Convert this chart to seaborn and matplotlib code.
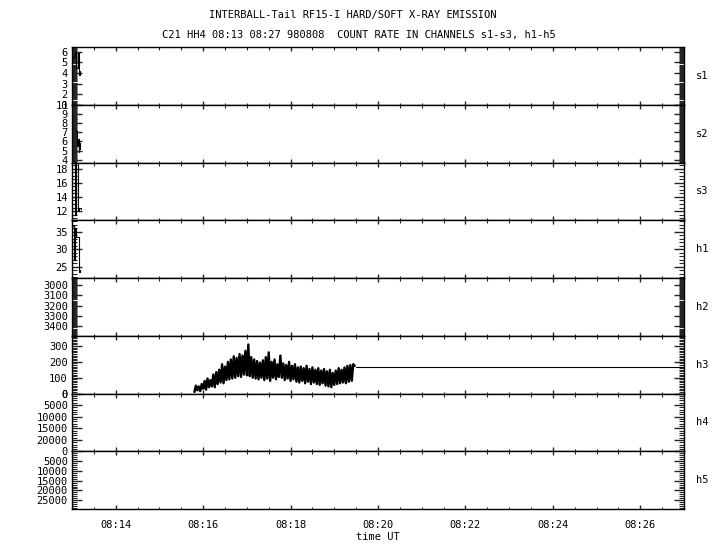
# INTERBALL-Tail RF15-I hard/soft X-ray count rates, 8 stacked channels

import numpy as np
import matplotlib
matplotlib.use("Agg")
import matplotlib.pyplot as plt
from matplotlib.ticker import MultipleLocator, FuncFormatter
import seaborn as sns

# ---- data (time in minutes after 08:00) ----
channels = ["s1", "s2", "s3", "h1", "h2", "h3", "h4", "h5"]

s1_t = [13.02, 13.06, 13.10, 13.14, 13.16, 13.18]
s1_v = [5.5, 6.0, 4.5, 5.9, 3.8, 4.2]

s2_t = [13.08, 13.11, 13.13, 13.15, 13.17, 13.18]
s2_v = [7.1, 5.5, 6.3, 4.9, 5.8, 5.2]

s3_t = [13.05, 13.08, 13.10, 13.14, 13.17, 13.20]
s3_v = [19.5, 11.5, 19.5, 12.0, 12.5, 12.3]

h1_t = [13.02, 13.05, 13.08, 13.10, 13.15, 13.17, 13.19]
h1_v = [36.5, 27.0, 36.0, 33.5, 33.2, 23.5, 24.0]

# h3 sampled every 2 s from 08:15:48
h3_v = [10, 50, 20, 45, 15, 60,
        30, 80, 25, 95, 40, 85,
        45, 120, 40, 135, 60, 150,
        70, 185, 65, 170, 85, 200,
        90, 215, 95, 235, 100, 225,
        110, 250, 105, 240, 120, 270,
        115, 310, 110, 230, 100, 215,
        95, 205, 90, 195, 100, 210,
        85, 230, 95, 260, 80, 200,
        100, 215, 90, 185, 105, 240,
        100, 190, 85, 180, 95, 200,
        80, 175, 90, 185, 75, 165,
        70, 170, 80, 160, 65, 175,
        75, 155, 60, 165, 70, 150,
        60, 160, 55, 145, 65, 155,
        50, 140, 45, 150, 40, 130,
        55, 145, 60, 160, 65, 150,
        70, 165, 65, 175, 75, 180,
        80, 185, 175]
h3_start = 15.8
h3_flat_t = [19.5, 27.0]
h3_flat_v = [170, 170]

# y limits (bottom, top), major / minor tick steps
ylims = {"s1": (1, 6.45), "s2": (3.7, 10), "s3": (10.7, 18.86), "h1": (21.8, 38.2),
         "h2": (3490, 2933), "h3": (0, 365), "h4": (24900, 0), "h5": (29500, 0)}
majors = {"s1": 1, "s2": 1, "s3": 2, "h1": 5, "h2": 100, "h3": 100, "h4": 5000, "h5": 5000}
minors = {"s1": 0.1, "s2": 0.1, "s3": 0.5, "h1": 1, "h2": 10, "h3": 10, "h4": 1000, "h5": 1000}

series = {"s1": (s1_t, s1_v), "s2": (s2_t, s2_v), "s3": (s3_t, s3_v), "h1": (h1_t, h1_v)}

sns.set_style("white")
plt.rcParams["font.family"] = ["DejaVu Sans Mono"]
plt.rcParams["font.size"] = 7.5

fig, axes = plt.subplots(len(channels), 1, figsize=(7.2, 5.5), dpi=100, sharex=True)
fig.subplots_adjust(left=0.1, right=0.95, top=0.9145, bottom=0.0745, hspace=0)

h3_t = h3_start + np.arange(len(h3_v)) * 2 / 60

for ax, ch in zip(axes, channels):
    if ch in series:
        t, v = series[ch]
        sns.lineplot(x=t, y=v, ax=ax, color="black", linewidth=0.8,
                     estimator=None, sort=False, drawstyle="steps-post")
    if ch == "h3":
        sns.lineplot(x=h3_t, y=h3_v, ax=ax, color="black", linewidth=1.7,
                     estimator=None, sort=False)
        sns.lineplot(x=h3_flat_t, y=h3_flat_v, ax=ax, color="black", linewidth=0.8,
                     estimator=None, sort=False)
    ax.set_xlim(13, 27)
    ax.set_ylim(*ylims[ch])
    ax.yaxis.set_major_locator(MultipleLocator(majors[ch]))
    ax.yaxis.set_minor_locator(MultipleLocator(minors[ch]))
    ax.xaxis.set_major_locator(MultipleLocator(2))
    ax.xaxis.set_minor_locator(MultipleLocator(0.5))
    ax.yaxis.set_major_formatter(FuncFormatter(lambda y, p: f"{y:g}"))
    ax.tick_params(axis="y", which="major", direction="in", length=7.5, width=1,
                   left=True, right=True, pad=3, labelsize=7.5, labelcolor="black")
    ax.tick_params(axis="y", which="minor", direction="in", length=3.8, width=0.8,
                   left=True, right=True)
    ax.tick_params(axis="x", which="major", direction="in", length=3, width=1,
                   top=True, bottom=True, labelsize=7.5, pad=8, labelcolor="black")
    ax.tick_params(axis="x", which="minor", direction="in", length=1.8, width=0.8,
                   top=True, bottom=True)
    for sp in ax.spines.values():
        sp.set_color("black")
        sp.set_linewidth(1)
    ax.set_ylabel("")
    ax.text(1.02, 0.5, ch, transform=ax.transAxes, va="center", ha="left",
            fontsize=7.5, color="black")

axes[-1].xaxis.set_major_formatter(FuncFormatter(lambda x, p: f"08:{int(round(x)):02d}"))
axes[-1].set_xlabel("time UT", fontsize=7.5, labelpad=1, color="black")

fig.text(0.49, 0.973, "INTERBALL-Tail RF15-I HARD/SOFT X-RAY EMISSION",
         ha="center", va="center", fontsize=7.5, color="black")
fig.text(0.499, 0.936, "C21 HH4 08:13 08:27 980808  COUNT RATE IN CHANNELS s1-s3, h1-h5",
         ha="center", va="center", fontsize=7.5, color="black")

fig.savefig("out.png", dpi=100, facecolor="white")
